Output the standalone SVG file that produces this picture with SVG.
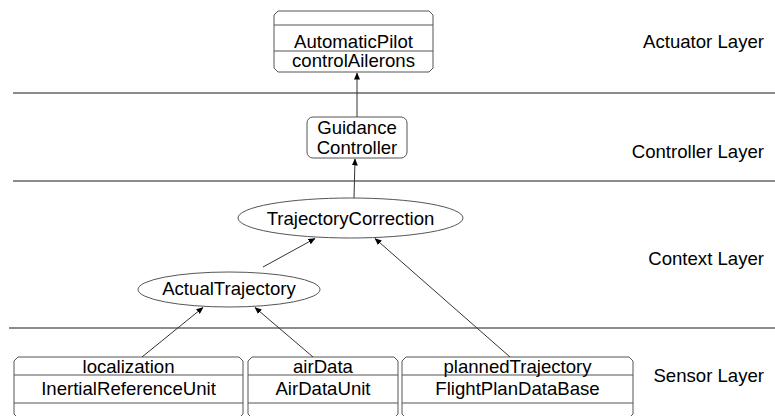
<svg xmlns="http://www.w3.org/2000/svg" width="775" height="416" viewBox="0 0 775 416">
<defs>
<marker id="arr" markerWidth="7" markerHeight="6" refX="6.5" refY="3" orient="auto" markerUnits="userSpaceOnUse">
<path d="M0,0 L7,3 L0,6 z" fill="#000"/>
</marker>
<style>
text{font-family:"Liberation Sans",Arial,sans-serif;font-size:18.6px;fill:#000;text-anchor:middle}
.lbl{text-anchor:end}
.box{fill:#fff;stroke:#555;stroke-width:1}
.sep{stroke:#555;stroke-width:1;fill:none}
.layer{stroke:#666;stroke-width:1.3}
.conn{stroke:#333;stroke-width:1;fill:none;marker-end:url(#arr)}
</style>
</defs>
<rect width="775" height="416" fill="#fff"/>
<g id="layers">
<line class="layer" x1="13" y1="93" x2="775" y2="93"/>
<line class="layer" x1="13" y1="181" x2="775" y2="181"/>
<line class="layer" x1="9" y1="328" x2="775" y2="328"/>
<text class="lbl" x="764" y="48">Actuator Layer</text>
<text class="lbl" x="764" y="158">Controller Layer</text>
<text class="lbl" x="764" y="265">Context Layer</text>
<text class="lbl" x="764" y="382">Sensor Layer</text>
</g>
<g id="automaticPilot">
<path class="box" d="M278,11 H429 L433,15 V68 L429,72 H278 L274,68 V15 z"/>
<line class="sep" x1="274" y1="25" x2="433" y2="25"/>
<line class="sep" x1="274" y1="51" x2="433" y2="51"/>
<text x="353.500" y="48">AutomaticPilot</text>
<text x="353.500" y="67">controlAilerons</text>
</g>
<g id="guidanceController">
<rect class="box" x="307" y="117" width="100" height="41" rx="6"/>
<text x="357" y="134">Guidance</text>
<text x="357" y="154">Controller</text>
</g>
<g id="trajectoryCorrection">
<ellipse class="box" cx="350.500" cy="218" rx="112.500" ry="20"/>
<text x="350.500" y="225">TrajectoryCorrection</text>
</g>
<g id="actualTrajectory">
<ellipse class="box" cx="229" cy="289.500" rx="91" ry="17.500"/>
<text x="229" y="295">ActualTrajectory</text>
</g>
<g id="inertialReferenceUnit">
<path class="box" d="M18,357 H239 L243,361 V414 L239,418 H18 L14,414 V361 z"/>
<line class="sep" x1="14" y1="375" x2="243" y2="375"/>
<line class="sep" x1="14" y1="403" x2="243" y2="403"/>
<text x="128.500" y="373">localization</text>
<text x="128.500" y="395">InertialReferenceUnit</text>
</g>
<g id="airDataUnit">
<path class="box" d="M252,357 H394 L398,361 V414 L394,418 H252 L248,414 V361 z"/>
<line class="sep" x1="248" y1="375" x2="398" y2="375"/>
<line class="sep" x1="248" y1="403" x2="398" y2="403"/>
<text x="323" y="373">airData</text>
<text x="323" y="395">AirDataUnit</text>
</g>
<g id="flightPlanDataBase">
<path class="box" d="M406,357 H629 L633,361 V414 L629,418 H406 L402,414 V361 z"/>
<line class="sep" x1="402" y1="375" x2="633" y2="375"/>
<line class="sep" x1="402" y1="403" x2="633" y2="403"/>
<text x="517.500" y="373">plannedTrajectory</text>
<text x="517.500" y="395">FlightPlanDataBase</text>
</g>
<g id="connectors">
<line class="conn" x1="357" y1="117" x2="357" y2="73"/>
<line class="conn" x1="354" y1="198" x2="355" y2="159"/>
<line class="conn" x1="263" y1="267" x2="315" y2="238.500"/>
<line class="conn" x1="510" y1="357" x2="375" y2="238.500"/>
<line class="conn" x1="142" y1="357" x2="203" y2="307.500"/>
<line class="conn" x1="313" y1="357" x2="255" y2="307.500"/>
</g>
</svg>
